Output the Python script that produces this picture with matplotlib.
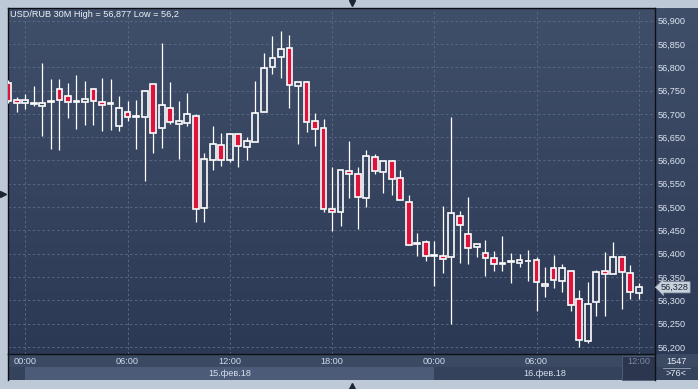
import numpy as np
import pandas as pd
import matplotlib
matplotlib.use("Agg")
import matplotlib.pyplot as plt
from matplotlib.patches import Rectangle
from matplotlib.transforms import blended_transform_factory
from matplotlib.colors import LinearSegmentedColormap

plt.rcParams['font.family'] = ['Liberation Sans', 'DejaVu Sans']

# ---- data (USD/RUB, 30 min candles) ----
start_time = "2018-02-14 23:00"
opens = [56.767, 56.729, 56.723, 56.722, 56.716, 56.725, 56.753, 56.738, 56.726, 56.725,
         56.753, 56.725, 56.721, 56.675, 56.703, 56.694, 56.693, 56.763, 56.669, 56.712,
         56.678, 56.680, 56.695, 56.499, 56.602, 56.633, 56.602, 56.656, 56.628, 56.639,
         56.703, 56.800, 56.821, 56.841, 56.759, 56.768, 56.684, 56.669, 56.497, 56.489,
         56.577, 56.570, 56.519, 56.607, 56.575, 56.598, 56.562, 56.512, 56.420, 56.426,
         56.396, 56.396, 56.392, 56.482, 56.442, 56.414, 56.401, 56.390, 56.379, 56.383,
         56.381, 56.384, 56.386, 56.331, 56.369, 56.341, 56.364, 56.302, 56.212, 56.296,
         56.362, 56.356, 56.394, 56.358, 56.315]
highs = [56.772, 56.736, 56.743, 56.760, 56.810, 56.775, 56.775, 56.767, 56.784, 56.771,
         56.753, 56.777, 56.775, 56.738, 56.728, 56.730, 56.749, 56.763, 56.852, 56.768,
         56.728, 56.745, 56.699, 56.617, 56.674, 56.658, 56.658, 56.656, 56.650, 56.771,
         56.831, 56.867, 56.877, 56.869, 56.768, 56.771, 56.701, 56.689, 56.585, 56.579,
         56.642, 56.585, 56.622, 56.613, 56.598, 56.602, 56.579, 56.525, 56.444, 56.429,
         56.427, 56.502, 56.693, 56.491, 56.522, 56.420, 56.429, 56.406, 56.438, 56.401,
         56.400, 56.408, 56.394, 56.372, 56.397, 56.379, 56.364, 56.322, 56.339, 56.366,
         56.403, 56.425, 56.394, 56.375, 56.337]
lows = [56.724, 56.703, 56.711, 56.716, 56.653, 56.625, 56.623, 56.692, 56.668, 56.677,
        56.677, 56.664, 56.666, 56.664, 56.685, 56.625, 56.557, 56.617, 56.627, 56.678,
        56.604, 56.675, 56.469, 56.469, 56.580, 56.589, 56.597, 56.585, 56.600, 56.639,
        56.703, 56.785, 56.776, 56.713, 56.636, 56.662, 56.630, 56.490, 56.449, 56.460,
        56.520, 56.454, 56.501, 56.570, 56.531, 56.527, 56.515, 56.418, 56.396, 56.385,
        56.331, 56.359, 56.249, 56.381, 56.379, 56.392, 56.353, 56.364, 56.364, 56.338,
        56.372, 56.342, 56.277, 56.308, 56.327, 56.318, 56.278, 56.200, 56.208, 56.267,
        56.267, 56.356, 56.282, 56.302, 56.304]
closes = [56.727, 56.723, 56.729, 56.723, 56.723, 56.726, 56.729, 56.726, 56.727, 56.731,
          56.727, 56.718, 56.722, 56.712, 56.693, 56.695, 56.749, 56.658, 56.720, 56.682,
          56.684, 56.699, 56.497, 56.603, 56.635, 56.602, 56.656, 56.630, 56.641, 56.701,
          56.798, 56.819, 56.839, 56.761, 56.768, 56.682, 56.667, 56.497, 56.489, 56.579,
          56.572, 56.521, 56.609, 56.577, 56.598, 56.560, 56.515, 56.418, 56.424, 56.396,
          56.397, 56.389, 56.487, 56.461, 56.412, 56.420, 56.390, 56.377, 56.380, 56.384,
          56.386, 56.385, 56.339, 56.336, 56.343, 56.369, 56.291, 56.216, 56.293, 56.360,
          56.356, 56.394, 56.360, 56.318, 56.328]
price_ticks = [56.20, 56.25, 56.30, 56.35, 56.40, 56.45, 56.50, 56.55,
               56.60, 56.65, 56.70, 56.75, 56.80, 56.85, 56.90]
day_labels = ["15.фев.18", "16.фев.18"]
bars_count = "1547"
bars_hidden = ">76<"

# ---- colours ----
frame_col = '#bec9d7'
bg_top, bg_bot = '#404f69', '#2c3955'
grid_col = '#586782'
red = '#dc143c'
txt_col = '#dde5f0'
line_col = '#0d1117'


def fmt(v):
    return f"{v:.3f}".rstrip('0').replace('.', ',')


W, H = 698, 389
L, T, R, B = 8, 8, 655, 354   # plot box in pixels
fig = plt.figure(figsize=(W / 100, H / 100), dpi=100)

# background / frame axes in pixel units
bg = fig.add_axes([0, 0, 1, 1])
bg.set_xlim(0, W)
bg.set_ylim(H, 0)
bg.axis('off')
bg.add_patch(Rectangle((0, 0), W, H, fc=frame_col, ec='none', zorder=0))
cmap = LinearSegmentedColormap.from_list('g', [bg_top, bg_bot])
bg.imshow(np.linspace(0, 1, 256).reshape(-1, 1), cmap=cmap, aspect='auto',
          extent=(L, W, B, T), zorder=1)
bg.add_patch(Rectangle((L, B), W - L, 13, fc='#3c4963', ec='none', zorder=2))
bg.add_patch(Rectangle((L, B + 13), W - L, 13, fc='#35425c', ec='none', zorder=2))

# ---- main chart ----
ax = fig.add_axes([L / W, 1 - B / H, (R - L) / W, (B - T) / H])
ax.set_facecolor('none')
step = 8.52
x0 = 8.3
ax.set_xlim((L - x0) / step, (R - x0) / step)
ax.set_ylim(56.185, 56.927)

times = pd.date_range(start_time, periods=len(closes), freq="30min")
idx = np.arange(len(closes))
w = 0.68
for i, o, h, l, c in zip(idx, opens, highs, lows, closes):
    top, bot = max(o, c), min(o, c)
    ax.vlines(i, top, h, color='white', lw=0.9, zorder=3)
    ax.vlines(i, l, bot, color='white', lw=0.9, zorder=3)
    fc = red if c < o else 'none'
    ax.add_patch(Rectangle((i - w / 2, bot), w, max(top - bot, 0.0015),
                           fc=fc, ec='white', lw=1.2, zorder=4))

# ticks
tick_idx = [i for i, t in enumerate(times) if t.minute == 0 and t.hour % 6 == 0]
ax.set_xticks(tick_idx)
ax.set_xticklabels([times[i].strftime("%H:%M") for i in tick_idx])
ax.set_yticks(price_ticks)
ax.set_yticklabels([f"{v:.3f}".replace('.', ',') for v in price_ticks])
ax.yaxis.tick_right()
ax.tick_params(axis='y', length=0, pad=2.2, labelsize=6.6, labelcolor=txt_col)
ax.tick_params(axis='x', length=0, pad=2.4, labelsize=6.6, labelcolor='#cfdbec')
ax.get_xticklabels()[-1].set_color('#7d899f')
ax.grid(True, color=grid_col, linestyle=(0, (2.5, 2.5)), lw=0.7)
ax.set_axisbelow(True)
for s in ax.spines.values():
    s.set_color(line_col)
    s.set_linewidth(1.0)

# date band + labels under the time axis
tr = blended_transform_factory(ax.transData, bg.transData)
day_idx = [i for i, t in enumerate(times) if t.hour == 0 and t.minute == 0]
xmax = ax.get_xlim()[1]
bg.add_patch(Rectangle((day_idx[0], B + 13), day_idx[1] - day_idx[0], 13,
                       transform=tr, fc='#4c5b77', ec='none', zorder=3))
bounds = [(day_idx[0], day_idx[1]), (day_idx[1], xmax)]
for (a, b), lab in zip(bounds, day_labels):
    bg.text((a + b) / 2, B + 20, lab, transform=tr, ha='center', va='center',
            fontsize=6.6, color='#d6e0ee', zorder=5)

# current time box
bg.add_patch(Rectangle((idx[-1] - 2.0, B + 1.5), xmax - idx[-1] + 2.0, 24.5,
                       transform=tr, fc='#2c374f', ec='#52607a', lw=0.6, zorder=4))
bg.plot([R, R], [B, B + 26], color=line_col, lw=1.0, zorder=6)
bg.plot([L, L], [B, B + 26], color=line_col, lw=1.0, zorder=6)

# bar counter box
bg.text((R + W) / 2, B + 7, bars_count, ha='center', va='center', fontsize=6.6,
        color='#e6ecf4', zorder=6)
bg.plot([R + 8, W - 8], [B + 14, B + 14], color='#9aa6ba', lw=0.6, zorder=6)
bg.text((R + W) / 2, B + 20, bars_hidden, ha='center', va='center', fontsize=6.6,
        color='#e6ecf4', zorder=6)

# title
bg.text(L + 2, 14.5, f"USD/RUB 30M High = {fmt(max(highs))} Low = {fmt(min(lows))}",
        ha='left', va='center', fontsize=6.6, color='#eef2f8', zorder=6)

# last price tag
ax.text(1.0095, closes[-1], fmt(closes[-1]),
        transform=blended_transform_factory(ax.transAxes, ax.transData),
        ha='left', va='center', fontsize=6.6, color='#1c2639', clip_on=False, zorder=7,
        bbox=dict(boxstyle='larrow,pad=0.12', fc='#c9d1dc', ec='#8b97a9', lw=0.5))

# small handles on the frame
bg.plot([352], [3.2], marker='v', ms=5, color='#1e2532', clip_on=False, zorder=6)
bg.plot([352], [385.5], marker='^', ms=5, color='#1e2532', clip_on=False, zorder=6)
bg.plot([3.2], [194], marker='>', ms=5, color='#1e2532', clip_on=False, zorder=6)

fig.savefig("out.png", dpi=100)
